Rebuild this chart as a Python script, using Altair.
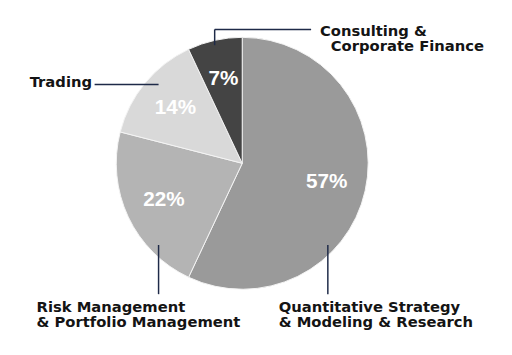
import altair as alt
import pandas as pd

# --- data ---
categories = [
    "Quantitative Strategy & Modeling & Research",
    "Risk Management & Portfolio Management",
    "Trading",
    "Consulting & Corporate Finance",
]
shares = [57, 22, 14, 7]
pct_labels = ["57%", "22%", "14%", "7%"]
slice_colors = ["#9a9a9a", "#b4b4b4", "#d9d9d9", "#444444"]

label_lines = [
    "Quantitative Strategy", "& Modeling & Research",
    "Risk Management", "& Portfolio Management",
    "Trading",
    "Consulting &", "Corporate Finance",
]

# --- layout (chart pixel coordinates; page = chart + 8) ---
W, H = 504, 347
CX, CY, R = 238, 155, 128
label_x = [275, 275, 29, 29, 22, 317, 328]
label_y = [306, 321, 306, 321, 77, 26, 41]
rule_x = [210, 210, 88, 153, 325]
rule_y = [35, 19, 75, 238, 238]
rule_x2 = [210, 308, 153, 153, 325]
rule_y2 = [19, 19, 75, 288, 288]

pie_df = pd.DataFrame({"cat": categories, "share": shares, "pct": pct_labels,
                       "idx": list(range(len(categories)))})
lab_df = pd.DataFrame({"text": label_lines, "x": label_x, "y": label_y})
rule_df = pd.DataFrame({"x": rule_x, "y": rule_y, "x2": rule_x2, "y2": rule_y2})

xs = alt.Scale(domain=[0, W], nice=False, zero=False)
ys = alt.Scale(domain=[H, 0], nice=False, zero=False)

theta = alt.Theta("share:Q", stack=True)
order = alt.Order("idx:Q")

arcs = alt.Chart(pie_df).mark_arc(radius=R, stroke="#f4f4f4", strokeWidth=1).encode(
    theta=theta,
    order=order,
    color=alt.Color("cat:N", scale=alt.Scale(domain=categories, range=slice_colors), legend=None),
    x=alt.value(CX), y=alt.value(CY),
)

pcts = alt.Chart(pie_df).mark_text(
    radius=88, font="Liberation Sans", fontWeight="bold", fontSize=21,
    color="white", align="center", baseline="middle",
).encode(theta=theta, order=order, text="pct:N", x=alt.value(CX), y=alt.value(CY))

rules = alt.Chart(rule_df).mark_rule(color="#1e2a48", strokeWidth=1.5).encode(
    x=alt.X("x:Q", scale=xs, axis=None),
    y=alt.Y("y:Q", scale=ys, axis=None),
    x2="x2:Q", y2="y2:Q",
)

labels = alt.Chart(lab_df).mark_text(
    font="DejaVu Sans", fontWeight="bold", fontSize=15, color="#141414",
    align="left", baseline="alphabetic",
).encode(
    x=alt.X("x:Q", scale=xs, axis=None),
    y=alt.Y("y:Q", scale=ys, axis=None),
    text="text:N",
)

chart = alt.layer(arcs, pcts, rules, labels).properties(
    width=W, height=H, padding=0,
    autosize=alt.AutoSizeParams(type="none"),
).configure_view(stroke=None)

chart.save("out.html", embed_options={"renderer": "svg", "actions": False})
